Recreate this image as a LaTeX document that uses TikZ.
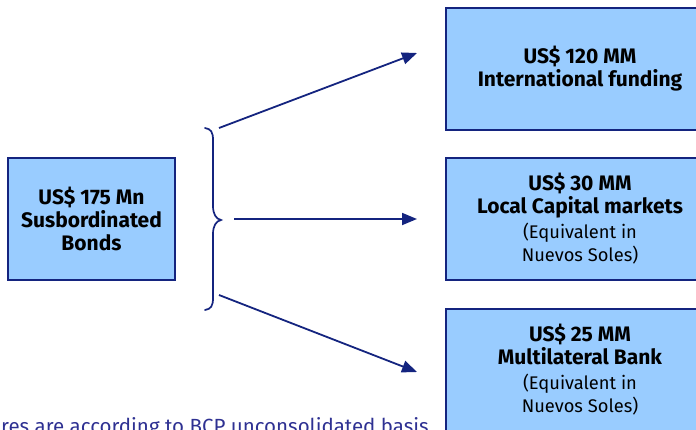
\documentclass[tikz,border=0pt]{standalone}
\usepackage{fontspec}
\setmainfont{Fira Sans}
\usetikzlibrary{arrows.meta}
\definecolor{boxfill}{HTML}{99CCFF}
\definecolor{navy}{HTML}{14247F}
\definecolor{notecol}{HTML}{2E3192}
\begin{document}
\begin{tikzpicture}[x=1pt,y=-1pt,
  fundbox/.style={draw=navy,line width=1.6pt,fill=boxfill,align=center,
    inner sep=0pt,minimum width=#1,minimum height=122pt,
    font=\fontsize{21}{23}\selectfont\bfseries},
  fundbox/.default=268pt,
  flow/.style={draw=navy,line width=1.8pt,-{Triangle[length=15pt,width=12pt]}},
  brace/.style={draw=navy,line width=1.7pt,line cap=round}]
\useasboundingbox (0,0) rectangle (696,429);

% source issue
\node[fundbox=167pt] (src) at (91.5,219)
  {US\$ 175 Mn\\Susbordinated\\Bonds};

% destinations
\newcommand{\eqsoles}{{\mdseries\fontsize{18.3}{22}\selectfont (Equivalent in}\\{\mdseries\fontsize{18.3}{22}\selectfont Nuevos Soles)}}
\node[fundbox] (intl) at (580,69)
  {US\$ 120 MM\\International funding};
\node[fundbox] (local) at (580,219)
  {US\$ 30 MM\\Local Capital markets\\[2pt]\eqsoles};
\node[fundbox] (multi) at (580,370)
  {US\$ 25 MM\\Multilateral Bank\\[2pt]\eqsoles};

% brace grouping the split
\coordinate (btop) at (205,128);
\coordinate (btip) at (221,220);
\coordinate (bbot) at (205,310);
\draw[brace] (btop) .. controls (211,129) and (213,132) .. (213,140)
  -- (213,206) .. controls (213,214) and (216,219) .. (btip)
  .. controls (216,221) and (213,226) .. (213,234)
  -- (213,298) .. controls (213,306) and (211,309) .. (bbot);

% arrows to each destination
\coordinate (a1s) at (219,128); \coordinate (a1e) at (417,53);
\coordinate (a2s) at (234,219); \coordinate (a2e) at (417,219);
\coordinate (a3s) at (219,295); \coordinate (a3e) at (417,372);
\draw[flow] (a1s) -- (a1e);
\draw[flow] (a2s) -- (a2e);
\draw[flow] (a3s) -- (a3e);

% footnote
\node[anchor=base west,inner sep=0pt,text=notecol,font=\fontsize{20.5}{22}\selectfont] (note) at (1,433)
  {res are according to BCP unconsolidated basis};
\end{tikzpicture}
\end{document}
